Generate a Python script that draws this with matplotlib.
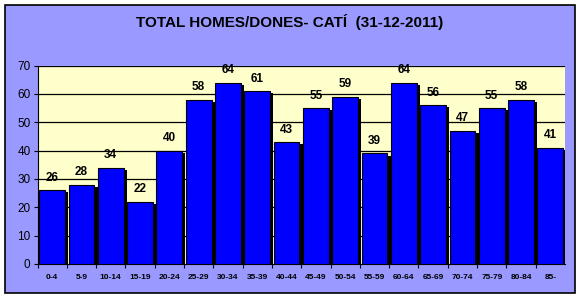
import matplotlib
matplotlib.use("Agg")
import matplotlib.pyplot as plt
import matplotlib.patheffects as pe
from matplotlib.patches import Rectangle

categories = ["0-4", "5-9", "10-14", "15-19", "20-24", "25-29", "30-34", "35-39",
              "40-44", "45-49", "50-54", "55-59", "60-64", "65-69", "70-74",
              "75-79", "80-84", "85-"]
values = [26, 28, 34, 22, 40, 58, 64, 61, 43, 55, 59, 39, 64, 56, 47, 55, 58, 41]
title = "TOTAL HOMES/DONES- CATÍ  (31-12-2011)"

plt.rcParams['font.family'] = ['Liberation Sans', 'DejaVu Sans']

fig = plt.figure(figsize=(5.8, 2.98), dpi=100, facecolor="white")
# chart area
fig.patches.append(Rectangle((5/580, 5/298), 570/580, 288/298, transform=fig.transFigure,
                             facecolor="#9999FF", edgecolor="black", linewidth=1.2, zorder=-10))
fig.text(0.5, 1 - 22/298, title, ha="center", va="center", fontsize=11, fontweight="bold")

ax = fig.add_axes([37.5/580, 34/298, (565-37.5)/580, (264-65.5)/298])
ax.set_facecolor("#FFFFCC")

x = range(len(values))
bars = ax.bar(x, values, width=0.88, color="#0000FF", edgecolor="black", linewidth=0.8, zorder=3)
for b in bars:
    b.set_path_effects([pe.SimplePatchShadow(offset=(2.3, -1.6), shadow_rgbFace="black", alpha=1),
                        pe.Normal()])

for i, v in enumerate(values):
    ax.annotate(str(v), (i, v), xytext=(0, 4.5), textcoords="offset points",
                ha="center", va="bottom", fontsize=8.5, fontweight="bold")

ax.set_xlim(-0.5, len(values) - 0.5)
ax.set_ylim(0, 70)
ax.set_yticks(range(0, 71, 10))
ax.yaxis.grid(True, color="black", linewidth=0.9, zorder=1)
ax.set_axisbelow(True)
ax.set_xticks([i - 0.5 for i in x], minor=False)
ax.set_xticklabels([])
ax.set_xticks(list(x), minor=True)
ax.set_xticklabels(categories, minor=True, fontsize=6, fontweight="bold")
ax.tick_params(axis="x", which="minor", length=0, pad=7)
ax.tick_params(axis="x", which="major", length=3, direction="out")
ax.tick_params(axis="y", length=3, labelsize=8.5, pad=2)

for s in ["top", "right"]:
    ax.spines[s].set_visible(False)
ax.spines["left"].set_color("black")
ax.spines["bottom"].set_color("black")

fig.savefig("out.png", dpi=100, facecolor=fig.get_facecolor())
